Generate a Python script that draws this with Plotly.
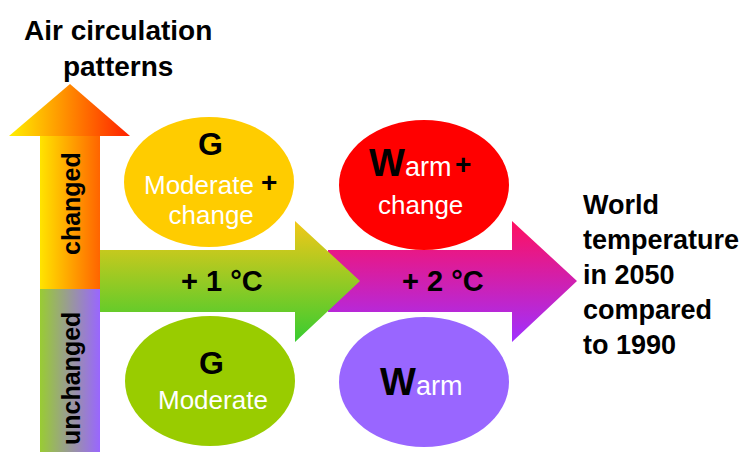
import plotly.graph_objects as go

# ---------------------------------------------------------------
# labels / content
# ---------------------------------------------------------------
axis_title = ["Air circulation", "patterns"]
circ_labels = ["changed", "unchanged"]
temp_steps = ["+ 1 °C", "+ 2 °C"]
result_title = ["World", "temperature", "in 2050", "compared", "to 1990"]

# (label letter, sub text, extra line, fill colour, shows "+")
cells = {
    "top_left": ("G", "Moderate", "change", "#FFCC00", True),
    "top_right": ("W", "arm", "change", "#FF0000", True),
    "bot_left": ("G", "Moderate", None, "#99CC00", False),
    "bot_right": ("W", "arm", None, "#9966FF", False),
}

W, H = 754, 452
FONT = "Arial, Liberation Sans, sans-serif"

fig = go.Figure()


def poly(xs, ys, kind, start, stop, c0, c1):
    fig.add_trace(go.Scatter(
        x=xs + [xs[0]], y=ys + [ys[0]], mode="lines", fill="toself",
        line=dict(width=0), hoverinfo="skip", showlegend=False,
        fillgradient=dict(type=kind, start=start, stop=stop,
                          colorscale=[[0, c0], [1, c1]]),
    ))


# vertical arrow (air circulation)
poly([40, 100, 100, 40], [136, 136, 289, 289], "horizontal", 40, 100, "#FFE400", "#FF6400")
poly([9, 70, 130], [136, 84, 136], "horizontal", 9, 130, "#FFF000", "#FF2000")
poly([40, 100, 100, 40], [289, 289, 452, 452], "horizontal", 40, 100, "#99CC33", "#9966FF")

# +2 arrow first, then +1 arrow on top of it
poly([328, 512, 512, 577, 512, 512, 328], [250, 250, 221, 281, 342, 312, 312],
     "vertical", 221, 342, "#FF1060", "#A030FF")
poly([100, 295, 295, 360, 295, 295, 100], [250, 250, 221, 281, 342, 312, 312],
     "vertical", 221, 342, "#F2C818", "#38CC30")

ann = []


def txt(x, y, s, size, color="black", bold=True, angle=0, align="center", xanchor="center"):
    ann.append(dict(x=x, y=y, xref="x", yref="y", text=f"<b>{s}</b>" if bold else s,
                    showarrow=False, textangle=angle, align=align, xanchor=xanchor,
                    font=dict(family=FONT, size=size, color=color)))


txt(118, 48, "<br>".join(axis_title), 28)
txt(71, 204, circ_labels[0], 25, angle=-90)
txt(71, 379, circ_labels[1], 25, angle=-90)
txt(222, 281, temp_steps[0], 29)
txt(443, 281, temp_steps[1], 29)
ann.append(dict(x=581, y=275, xref="x", yref="y", text="<br>".join(f"<b>{s}</b>" for s in result_title),
                showarrow=False, align="left", xanchor="left",
                font=dict(family=FONT, size=27, color="black")))

# ellipses
centers = {"top_left": (209, 182), "top_right": (424, 185),
           "bot_left": (210, 381), "bot_right": (424, 382)}
shapes = []
for key, (letter, sub, extra, col, plus) in cells.items():
    cx, cy = centers[key]
    shapes.append(dict(type="circle", xref="x", yref="y", x0=cx - 85, x1=cx + 85,
                       y0=cy - 65, y1=cy + 65, fillcolor=col, line=dict(width=0),
                       layer="below"))
    if letter == "G":
        if extra:
            txt(cx + 1, cy - 38, letter, 32)
            # two white lines, a bit tighter than the default line spacing
            ann.append(dict(x=cx + 47, y=cy + 18, xref="x", yref="y", showarrow=False,
                            xanchor="right", align="right",
                            text=f"<span style='font-size:26px'>{sub}</span><br>"
                                 f"<span style='font-size:26px'>{extra}</span>",
                            font=dict(family=FONT, size=23.2, color="white")))
            txt(cx + 60, cy, "+", 28)
        else:
            txt(cx + 1, cy - 18, letter, 32)
            txt(cx + 3, cy + 19, sub, 26, color="white", bold=False)
    else:
        wy = cy - 22 if extra else cy
        ann.append(dict(x=cx - 14 if extra else cx - 3, y=wy, xref="x", yref="y", showarrow=False,
                        text=f"<span style='color:black;font-size:38px'><b>{letter}</b></span>{sub}",
                        font=dict(family=FONT, size=27, color="white")))
        if plus:
            txt(cx + 39, wy + 1, "+", 28)
        if extra:
            txt(cx - 4, cy + 20, extra, 26, color="white", bold=False)

fig.update_layout(
    width=W, height=H, margin=dict(l=0, r=0, t=0, b=0),
    paper_bgcolor="white", plot_bgcolor="white",
    xaxis=dict(range=[0, W], visible=False, fixedrange=True),
    yaxis=dict(range=[H, 0], visible=False, fixedrange=True),
    shapes=shapes, annotations=ann,
)

fig.write_html("out.html", config={"displayModeBar": False},
               post_script="document.body.style.margin='0px';")
